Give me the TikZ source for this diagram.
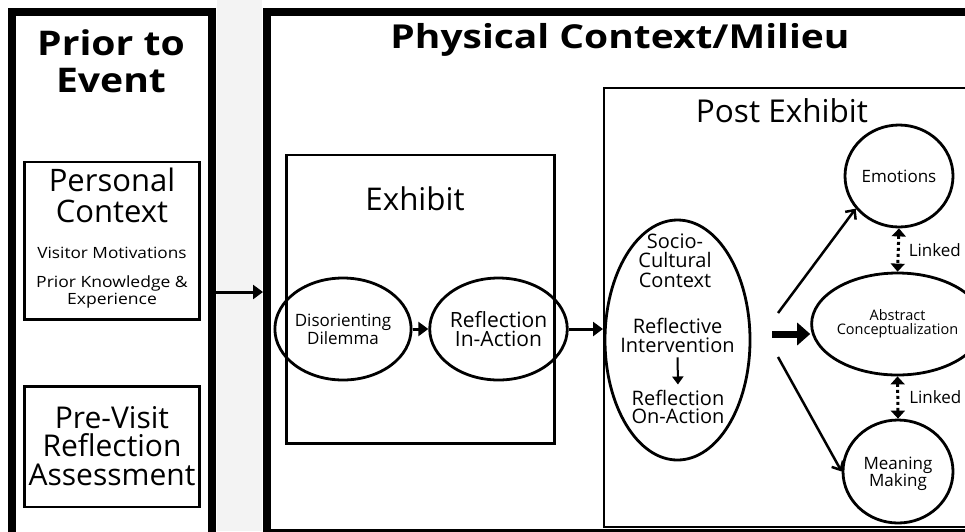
\documentclass[tikz,border=0pt]{standalone}
\usepackage{fontspec}
\setmainfont{Open Sans}
\usetikzlibrary{arrows.meta,shapes.geometric}
\definecolor{stripgray}{RGB}{243,243,243}
\newcommand\myfs[2]{\fontsize{#1}{#2}\selectfont}
\newcommand\mywide[1]{\addfontfeatures{FakeStretch=#1}}
\begin{document}
\begin{tikzpicture}[x=1pt,y=-1pt,
  panel/.style={draw, line width=8pt, rectangle, inner sep=0pt},
  box/.style={draw, line width=2.5pt, rectangle, inner sep=0pt},
  ell/.style={draw, ellipse, line width=2.8pt, inner sep=0pt, align=center},
  txt/.style={inner sep=0pt, align=center},
  arr/.style={line width=3pt, -{Triangle[length=10pt,width=14pt]}},
  smallarr/.style={line width=2pt, -{Triangle[length=8pt,width=11pt]}},
  diag/.style={line width=2.5pt, -{Straight Barb[length=7pt,width=13pt]}},
  bigarr/.style={line width=7pt, -{Triangle[length=13pt,width=22pt]}},
  linked/.style={line width=3pt, dash pattern=on 3pt off 3pt,
    {Triangle[length=8pt,width=14pt]}-{Triangle[length=8pt,width=14pt]}}
]
\clip (0,0) rectangle (965,531);
\fill[white] (0,0) rectangle (965,531);
\fill[stripgray] (217,0) rectangle (262,531);

% panels
\node[panel, minimum width=200pt, minimum height=548pt] (left) at (112,285.5) {};
\node[panel, minimum width=708pt, minimum height=521.5pt] (right) at (621,272.25) {};

% titles
\node[txt, anchor=base, font=\bfseries\myfs{34}{37}\mywide{1.15}] (prior) at (111,92) {Prior to\\Event};
\node[txt, anchor=base, font=\bfseries\myfs{33}{34}\mywide{1.18}] (phys) at (620,48) {Physical Context/Milieu};

% left boxes
\node[box, minimum width=175pt, minimum height=157.5pt] (pc) at (112,240.75) {};
\node[txt, anchor=base, font=\myfs{31}{31}] (pct) at (112,222) {Personal\\Context};
\node[txt, anchor=base, font=\myfs{15.5}{16}\mywide{1.11}] (vm) at (112,258) {Visitor Motivations};
\node[txt, anchor=base, font=\myfs{15.5}{13.5}\mywide{1.13}] (pk) at (112,304) {Prior Knowledge \&\\Experience};

\node[box, minimum width=175pt, minimum height=120.5pt] (pv) at (112,446.75) {};
\node[txt, anchor=base, font=\myfs{30}{28.5}] (pvt) at (112,485) {Pre-Visit\\Reflection\\Assessment};

% exhibit
\node[box, minimum width=268pt, minimum height=288.5pt] (ex) at (420.5,299.25) {};
\node[txt, anchor=base, font=\myfs{31.3}{32}] (ext) at (415,210) {Exhibit};
\node[ell, minimum width=108pt, minimum height=102pt, font=\myfs{17}{16}] (dis) at (343,329) {Disorienting\\Dilemma};
\node[ell, minimum width=109pt, minimum height=102pt, font=\myfs{21}{19}] (ria) at (498.5,329) {Reflection\\In-Action};

% post exhibit
\node[draw, rectangle, line width=2pt, inner sep=0pt, minimum width=371pt, minimum height=439pt] (post) at (789.5,307.5) {};
\node[txt, anchor=base, font=\myfs{31.5}{32}] (postt) at (782,122) {Post Exhibit};
\node[ell, minimum width=145pt, minimum height=240pt] (socio) at (677.5,340) {};
\node[txt, anchor=base, font=\myfs{20}{19.5}] (sct) at (675,287) {Socio-\\Cultural\\Context};
\node[txt, anchor=base, font=\myfs{20}{19}] (interv) at (677.5,352) {Reflective\\Intervention};
\node[txt, anchor=base, font=\myfs{20}{18}] (onact) at (678,423) {Reflection\\On-Action};

\node[ell, minimum width=108pt, minimum height=102pt, font=\myfs{17}{16}] (emo) at (899,176) {Emotions};
\node[ell, minimum width=135pt, minimum height=102pt, font=\myfs{14.5}{14}] (abs) at (897.5,324) {Abstract\\Conceptualization};
\node[ell, minimum width=110pt, minimum height=103pt, font=\myfs{17}{17}, text depth=0pt] (mean) at (898,471.5) {Meaning\\Making};

% connectors
\coordinate (ly) at (0,292);
\draw[arr] (left.east |- ly) -- (right.west |- ly);
\draw[arr] (dis.east) -- (ria.west);
\draw[arr] (ria.east) -- (ria.east -| post.west);
\draw[smallarr, shorten <=5pt, shorten >=5pt] (interv.south) -- (onact.north);

\coordinate (s1) at (778,313);
\coordinate (s2) at (772,334);
\coordinate (s3) at (778,357);
\draw[diag] (s1) -- (emo.217);
\draw[bigarr] (s2) -- (s2 -| abs.west);
\draw[diag] (s3) -- (mean.west);

\draw[linked] (emo.south) -- (abs.north) node[midway, right=9pt, inner sep=0pt, font=\myfs{17}{17}] {Linked};
\draw[linked] (abs.south) -- (mean.north) node[midway, right=10pt, inner sep=0pt, font=\myfs{17}{17}] {Linked};
\end{tikzpicture}
\end{document}
